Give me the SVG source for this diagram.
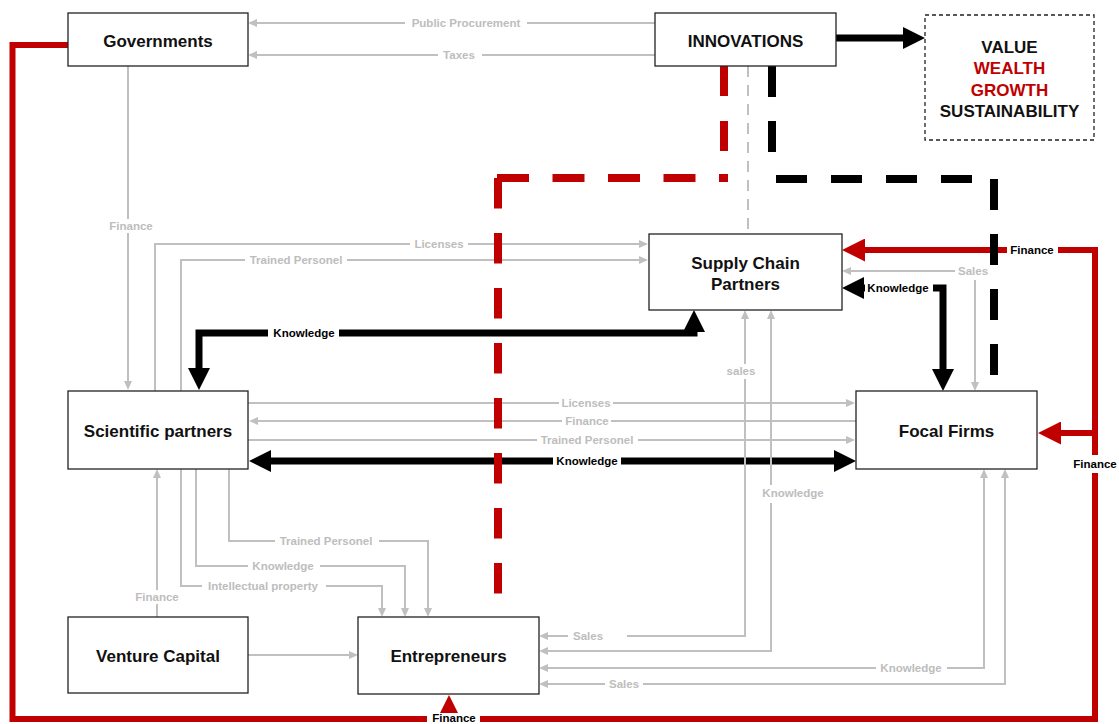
<svg xmlns="http://www.w3.org/2000/svg" width="1119" height="724" viewBox="0 0 1119 724">
<style>
.box{fill:#fff;stroke:#222;stroke-width:1.3}
.nt{font-family:"Liberation Sans",Arial,sans-serif;font-weight:bold;font-size:17px;fill:#111;text-anchor:middle}
.g{fill:none;stroke:#c0c0c0;stroke-width:2}
.gl{font-family:"Liberation Sans",Arial,sans-serif;font-weight:bold;font-size:11.5px;fill:#bdbdbd;text-anchor:middle}
.bl{font-family:"Liberation Sans",Arial,sans-serif;font-weight:bold;font-size:11.5px;fill:#000;text-anchor:middle}
.bg{fill:#fff}
.k{fill:none;stroke:#000;stroke-width:7}
.r{fill:none;stroke:#c00000;stroke-width:6}
.kd{fill:none;stroke:#000;stroke-width:8}
.rd{fill:none;stroke:#c00000;stroke-width:8}
</style>
<defs>
<marker id="ga" viewBox="0 0 9 8" refX="6" refY="4" markerWidth="9" markerHeight="8" markerUnits="userSpaceOnUse" orient="auto-start-reverse"><path d="M0,0 L9,4 L0,8 z" fill="#c0c0c0"/></marker>
<marker id="ba" viewBox="0 0 22 22" refX="14" refY="11" markerWidth="22" markerHeight="22" markerUnits="userSpaceOnUse" orient="auto-start-reverse"><path d="M0,0 L22,11 L0,22 z" fill="#000"/></marker>
<marker id="ra" viewBox="0 0 23 23" refX="15" refY="11.5" markerWidth="23" markerHeight="23" markerUnits="userSpaceOnUse" orient="auto-start-reverse"><path d="M0,0 L23,11.5 L0,23 z" fill="#c00000"/></marker>
<marker id="ra2" viewBox="0 0 18 18" refX="10" refY="9" markerWidth="18" markerHeight="18" markerUnits="userSpaceOnUse" orient="auto-start-reverse"><path d="M0,0 L18,9 L0,18 z" fill="#c00000"/></marker>
</defs>
<rect width="1119" height="724" fill="#fff"/>
<g id="connectors">
  <path class="g" d="M655,23 H251" marker-end="url(#ga)"/>
  <path class="g" d="M655,55 H251" marker-end="url(#ga)"/>
  <path class="g" d="M128,66 V387" marker-end="url(#ga)"/>
  <path class="g" d="M155,391 V244 H645" marker-end="url(#ga)"/>
  <path class="g" d="M181,391 V260 H645" marker-end="url(#ga)"/>
  <path class="g" d="M248,403 H852" marker-end="url(#ga)"/>
  <path class="g" d="M856,421 H252" marker-end="url(#ga)"/>
  <path class="g" d="M248,440 H852" marker-end="url(#ga)"/>
  <path class="g" d="M975,388 V271 H845" marker-start="url(#ga)" marker-end="url(#ga)"/>
  <path class="g" d="M248,655 H355" marker-end="url(#ga)"/>
  <path class="g" d="M157,617 V472" marker-end="url(#ga)"/>
  <path class="g" d="M181,469 V586 H382 V614" marker-end="url(#ga)"/>
  <path class="g" d="M196,469 V566 H405 V614" marker-end="url(#ga)"/>
  <path class="g" d="M229,469 V541 H428 V614" marker-end="url(#ga)"/>
  <path class="g" d="M748,66 V234" stroke-dasharray="11 8"/>
  <path class="k" d="M836,38 H917" marker-end="url(#ba)"/>
  <path class="k" d="M257,461 H848" marker-start="url(#ba)" marker-end="url(#ba)"/>
  <path class="k" d="M199,382 V333 H694 V318" marker-start="url(#ba)" marker-end="url(#ba)"/>
  <path class="k" d="M850,288 H943 V383" marker-start="url(#ba)" marker-end="url(#ba)"/>
  <path class="g" d="M745,313 V636 H542" marker-start="url(#ga)" marker-end="url(#ga)"/>
  <path class="g" d="M771,313 V651 H542" marker-start="url(#ga)" marker-end="url(#ga)"/>
  <path class="g" d="M984,472 V668 H542" marker-start="url(#ga)" marker-end="url(#ga)"/>
  <path class="g" d="M1005,472 V684 H542" marker-start="url(#ga)" marker-end="url(#ga)"/>
  <path class="r" d="M68,45 H12.5 V719 H1095 V250 H850" marker-end="url(#ra)"/>
  <path class="r" d="M1095,433 H1046" marker-end="url(#ra)"/>
  <path class="r" d="M449,722 V703" marker-end="url(#ra2)"/>
  <rect class="bg" x="405" y="16" width="122" height="14"/><text class="gl" x="466" y="27">Public Procurement</text>
  <rect class="bg" x="438" y="48" width="44" height="14"/><text class="gl" x="459" y="59">Taxes</text>
  <rect class="bg" x="107" y="219" width="48" height="14"/><text class="gl" x="131" y="230">Finance</text>
  <rect class="bg" x="410" y="237" width="58" height="14"/><text class="gl" x="439" y="248">Licenses</text>
  <rect class="bg" x="245" y="253" width="102" height="14"/><text class="gl" x="296" y="264">Trained Personel</text>
  <rect class="bg" x="268" y="325" width="71" height="16"/><text class="bl" x="304" y="337">Knowledge</text>
  <rect class="bg" x="865" y="280" width="68" height="16"/><text class="bl" x="898" y="292">Knowledge</text>
  <rect class="bg" x="955" y="263" width="36" height="17"/><text class="gl" x="973" y="275">Sales</text>
  <rect class="bg" x="726" y="364" width="31" height="15"/><text class="gl" x="741" y="375">sales</text>
  <rect class="bg" x="559" y="396" width="54" height="14"/><text class="gl" x="586" y="407">Licenses</text>
  <rect class="bg" x="562" y="414" width="49" height="14"/><text class="gl" x="587" y="425">Finance</text>
  <rect class="bg" x="537" y="433" width="101" height="14"/><text class="gl" x="587" y="444">Trained Personel</text>
  <rect class="bg" x="553" y="453" width="68" height="16"/><text class="bl" x="587" y="465">Knowledge</text>
  <rect class="bg" x="760" y="485" width="66" height="18"/><text class="gl" x="793" y="497">Knowledge</text>
  <rect class="bg" x="275" y="534" width="104" height="14"/><text class="gl" x="326" y="545">Trained Personel</text>
  <rect class="bg" x="248" y="559" width="72" height="14"/><text class="gl" x="283" y="570">Knowledge</text>
  <rect class="bg" x="202" y="579" width="124" height="14"/><text class="gl" x="263" y="590">Intellectual property</text>
  <rect class="bg" x="134" y="590" width="46" height="14"/><text class="gl" x="157" y="601">Finance</text>
  <rect class="bg" x="568" y="629" width="59" height="14"/><text class="gl" x="588" y="640">Sales</text>
  <rect class="bg" x="876" y="661" width="71" height="14"/><text class="gl" x="911" y="672">Knowledge</text>
  <rect class="bg" x="605" y="677" width="38" height="14"/><text class="gl" x="624" y="688">Sales</text>
  <rect class="bg" x="1007" y="242" width="51" height="16"/><text class="bl" x="1032" y="254">Finance</text>
  <rect class="bg" x="1072" y="455" width="47" height="18"/><text class="bl" x="1095" y="468">Finance</text>
  <rect class="bg" x="427" y="713" width="53" height="11"/><text class="bl" x="454" y="722">Finance</text>
  <path class="kd" d="M772,66 V153" stroke-dasharray="31 24"/>
  <path class="kd" d="M776,179 H994" stroke-dasharray="31 24"/>
  <path class="kd" d="M994,179 V376" stroke-dasharray="31 24"/>
  <path class="rd" d="M724,66 V179" stroke-dasharray="30 25"/>
  <path class="rd" d="M497,178 H728" stroke-dasharray="32 23.5"/>
  <path class="rd" d="M498,178 V596" stroke-dasharray="30.5 24.5"/>
</g>
<g id="governments"><rect class="box" x="68" y="13" width="180" height="53"/><text class="nt" x="158" y="46.5">Governments</text></g>
<g id="innovations"><rect class="box" x="655" y="13" width="181" height="53"/><text class="nt" x="745.5" y="46.5">INNOVATIONS</text></g>
<g id="value"><rect x="925" y="15" width="169" height="125" fill="#fff" stroke="#222" stroke-width="1.3" stroke-dasharray="4 3"/>
  <text class="nt" x="1009.5" y="52.5">VALUE</text>
  <text class="nt" x="1009.5" y="74" style="fill:#c00000">WEALTH</text>
  <text class="nt" x="1009.5" y="95.5" style="fill:#c00000">GROWTH</text>
  <text class="nt" x="1009.5" y="117">SUSTAINABILITY</text></g>
<g id="supply-chain"><rect class="box" x="649" y="234" width="193" height="76"/><text class="nt" x="745.5" y="268.5">Supply Chain</text><text class="nt" x="745.5" y="290">Partners</text></g>
<g id="scientific"><rect class="box" x="68" y="391" width="180" height="78"/><text class="nt" x="158" y="437">Scientific partners</text></g>
<g id="focal"><rect class="box" x="856" y="391" width="181" height="78"/><text class="nt" x="946.5" y="436.5">Focal Firms</text></g>
<g id="venture"><rect class="box" x="68" y="617" width="180" height="76"/><text class="nt" x="158" y="661.5">Venture Capital</text></g>
<g id="entrepreneurs"><rect class="box" x="358" y="617" width="181" height="77"/><text class="nt" x="448.5" y="661.5">Entrepreneurs</text></g>
</svg>
